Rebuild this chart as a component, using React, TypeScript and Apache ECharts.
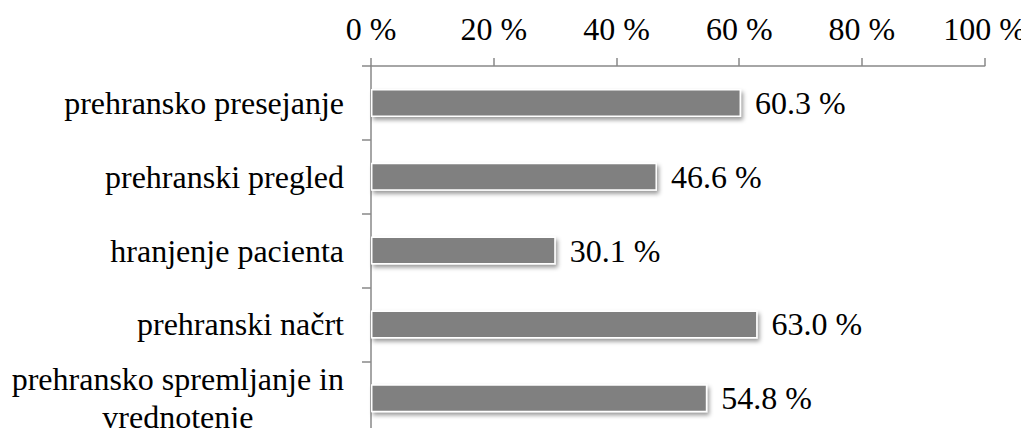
import React, { useEffect, useRef } from "react";
import * as echarts from "echarts";

// Share of responses per nutrition-care activity (percent)
const categories: string[] = [
  "prehransko presejanje",
  "prehranski pregled",
  "hranjenje pacienta",
  "prehranski načrt",
  "prehransko spremljanje in\nvrednotenje",
];
const values: number[] = [60.3, 46.6, 30.1, 63.0, 54.8];
const xTicks: number[] = [0, 20, 40, 60, 80, 100];

const FONT = "Liberation Serif, Times New Roman, serif";
const FONT_SIZE = 32;
const AXIS_COLOR = "#898989";

export default function App() {
  const ref = useRef<HTMLDivElement>(null);

  useEffect(() => {
    if (!ref.current) return;
    const chart = echarts.init(ref.current, undefined, { renderer: "svg" });
    chart.setOption({
      animation: false,
      backgroundColor: "#ffffff",
      textStyle: { fontFamily: FONT },
      grid: { left: 371, top: 66, width: 616, height: 372, containLabel: false },
      xAxis: {
        type: "value",
        position: "top",
        min: xTicks[0],
        max: xTicks[xTicks.length - 1],
        interval: xTicks[1] - xTicks[0],
        axisLine: { show: true, lineStyle: { color: AXIS_COLOR, width: 1.5 } },
        axisTick: { show: true, length: 8, lineStyle: { color: AXIS_COLOR, width: 1.5 } },
        splitLine: { show: false },
        axisLabel: {
          color: "#000",
          fontFamily: FONT,
          fontSize: FONT_SIZE,
          lineHeight: 30,
          margin: 22,
          formatter: (v: number) => `${v} %`,
        },
      },
      yAxis: {
        type: "category",
        inverse: true,
        data: categories,
        axisLine: { show: true, lineStyle: { color: AXIS_COLOR, width: 1.5 } },
        axisTick: { show: true, length: 9, lineStyle: { color: AXIS_COLOR, width: 1.5 } },
        axisLabel: {
          color: "#000",
          fontFamily: FONT,
          fontSize: FONT_SIZE,
          lineHeight: 38,
          margin: 27,
          formatter: (v: string) => `{c|${v}}`,
          rich: {
            c: {
              align: "center",
              fontFamily: FONT,
              fontSize: FONT_SIZE,
              lineHeight: 38,
              color: "#000",
            },
          },
        },
      },
      series: [
        {
          type: "bar",
          data: values,
          barWidth: 28,
          itemStyle: {
            color: "#808080",
            borderColor: "#ffffff",
            borderWidth: 1.5,
            shadowColor: "rgba(0,0,0,0.4)",
            shadowBlur: 4,
            shadowOffsetX: 2,
            shadowOffsetY: 3,
          },
          label: {
            show: true,
            position: "right",
            distance: 14,
            color: "#000",
            fontFamily: FONT,
            fontSize: FONT_SIZE,
            formatter: (p: any) => `${Number(p.value).toFixed(1)} %`,
          },
        },
      ],
    });
    return () => chart.dispose();
  }, []);

  return <div ref={ref} style={{ width: 1029, height: 436, margin: -8 }} />;
}
